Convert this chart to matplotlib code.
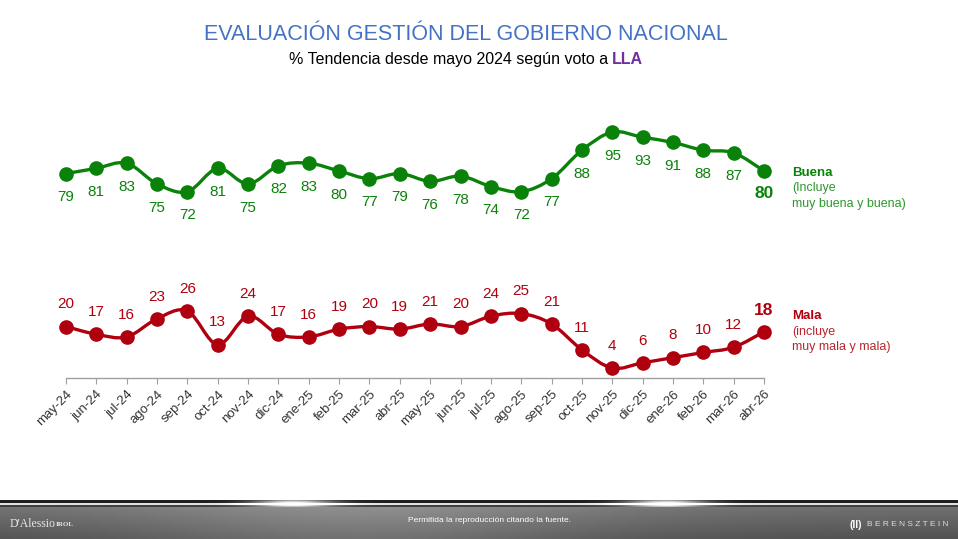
import numpy as np
import matplotlib
matplotlib.use("Agg")
import matplotlib.pyplot as plt
from matplotlib.path import Path
from matplotlib.patches import PathPatch

months = ["may-24", "jun-24", "jul-24", "ago-24", "sep-24", "oct-24", "nov-24", "dic-24",
          "ene-25", "feb-25", "mar-25", "abr-25", "may-25", "jun-25", "jul-25", "ago-25",
          "sep-25", "oct-25", "nov-25", "dic-25", "ene-26", "feb-26", "mar-26", "abr-26"]
buena = [79, 81, 83, 75, 72, 81, 75, 82, 83, 80, 77, 79, 76, 78, 74, 72, 77, 88, 95, 93, 91, 88, 87, 80]
mala = [20, 17, 16, 23, 26, 13, 24, 17, 16, 19, 20, 19, 21, 20, 24, 25, 21, 11, 4, 6, 8, 10, 12, 18]

GREEN = "#0a820a"
RED = "#b0000f"
BLUE = "#4472c4"
PURPLE = "#7030a0"

plt.rcParams["font.family"] = ["Liberation Sans", "DejaVu Sans"]

W, H = 958, 539
fig = plt.figure(figsize=(W / 100, H / 100), dpi=100)


def smooth_path(x, y):
    # Catmull-Rom through the points, as bezier segments
    pts = np.column_stack([x, y]).astype(float)
    ext = np.vstack([pts[0], pts, pts[-1]])
    verts = [tuple(pts[0])]
    codes = [Path.MOVETO]
    for i in range(len(pts) - 1):
        p0, p1, p2, p3 = ext[i], ext[i + 1], ext[i + 2], ext[i + 3]
        c1 = p1 + (p2 - p0) / 6
        c2 = p2 - (p3 - p1) / 6
        verts += [tuple(c1), tuple(c2), tuple(p2)]
        codes += [Path.CURVE4] * 3
    return Path(verts, codes)


ax = fig.add_axes([66 / W, 1 - 378.4 / H, 698 / W, (378.4 - 119.1) / H])
x = np.arange(len(months))

for vals, col in [(buena, GREEN), (mala, RED)]:
    ax.add_patch(PathPatch(smooth_path(x, vals), fill=False, edgecolor=col, lw=2.4,
                           clip_on=False, zorder=2))
    ax.plot(x, vals, "o", color=col, ms=9.5, clip_on=False, zorder=3)

for i, v in enumerate(buena):
    last = i == len(buena) - 1
    ax.annotate(str(v), (i, v), xytext=(0, -17 if not last else -16.5), textcoords="offset points",
                ha="center", va="center", color=GREEN,
                fontsize=12.5 if last else 11, fontweight="bold" if last else "normal")
for i, v in enumerate(mala):
    last = i == len(mala) - 1
    ax.annotate(str(v), (i, v), xytext=(0, 16 if not last else 15), textcoords="offset points",
                ha="center", va="center", color=RED,
                fontsize=12.5 if last else 11, fontweight="bold" if last else "normal")

ax.set_xlim(0, len(months) - 1)
ax.set_ylim(0, 100)
ax.set_xticks(x)
ax.set_xticklabels(months, rotation=45, ha="right", rotation_mode="anchor", fontsize=9.5, color="#333333")
ax.tick_params(axis="x", length=4, color="#a0a0a0", pad=3)
ax.set_yticks([])
for s in ["top", "right", "left"]:
    ax.spines[s].set_visible(False)
ax.spines["bottom"].set_color("#a0a0a0")
ax.spines["bottom"].set_linewidth(1)
ax.patch.set_alpha(0)

# series legends on the right
fig.text(792 / W, 1 - 173 / H, "Buena", color=GREEN, fontsize=9.5, fontweight="bold", va="center")
fig.text(792 / W, 1 - 188 / H, "(Incluye", color="#2e962e", fontsize=9, va="center")
fig.text(792 / W, 1 - 204 / H, "muy buena y buena)", color="#2e962e", fontsize=9, va="center")
fig.text(792 / W, 1 - 316 / H, "Mala", color=RED, fontsize=9.5, fontweight="bold", va="center")
fig.text(792 / W, 1 - 332 / H, "(incluye", color="#b8262e", fontsize=9, va="center")
fig.text(792 / W, 1 - 347 / H, "muy mala y mala)", color="#b8262e", fontsize=9, va="center")

# titles
fig.text(466 / W, 1 - 34 / H, "EVALUACIÓN GESTIÓN DEL GOBIERNO NACIONAL", color=BLUE,
         fontsize=15.5, ha="center", va="center")
renderer = fig.canvas.get_renderer()
t1 = fig.text(0, 1 - 60 / H, "% Tendencia desde mayo 2024 según voto a ", fontsize=11.5, va="center")
t2 = fig.text(0, 1 - 60 / H, "LLA", fontsize=11.5, fontweight="bold", color=PURPLE, va="center")
w1 = t1.get_window_extent(renderer).width
w2 = t2.get_window_extent(renderer).width
x0 = 466 - (w1 + w2) / 2
t1.set_x(x0 / W)
t2.set_x((x0 + w1) / W)

# footer band
fax = fig.add_axes([0, 0, 1, 40 / H])
rows = np.zeros((40, W, 3))
xx = np.linspace(0, 1, W)
for r in range(40):
    if r < 1:
        rows[r] = 1.0
    elif r < 4:
        rows[r] = 0.12
    elif r < 6:
        rows[r] = 0.88
    elif r < 8:
        rows[r] = 0.25
    else:
        base = 0.44 - 0.12 * (r - 8) / 32
        glow = 0.12 * np.exp(-((xx - 0.38) / 0.25) ** 2)
        rows[r] = (base + glow)[:, None]
for cx in [293, 666]:
    g = np.exp(-((np.arange(W) - cx) / 40.0) ** 2)
    for r in range(0, 8):
        rows[r] = np.clip(rows[r] + (0.9 * g * np.exp(-((r - 4) / 4.0) ** 2))[:, None], 0, 1)
fax.imshow(np.clip(rows, 0, 1), aspect="auto", extent=[0, W, 0, 40])
fax.set_axis_off()
fax.text(490, 19, "Permitida la reproducción citando la fuente.", color="white", fontsize=6,
         ha="center", va="center")
fax.text(10, 15, "D'Alessio", color="#e8e8e8", fontsize=8.5, family="Liberation Serif",
         ha="left", va="center")
fax.text(56, 14, "IROL", color="#e8e8e8", fontsize=5, fontweight="bold", family="Liberation Serif",
         ha="left", va="center")
fax.text(948, 14, "B E R E N S Z T E I N", color="#dddddd", fontsize=6, ha="right", va="center")
fax.text(862, 14, "(II)", color="white", fontsize=7.5, fontweight="bold", ha="right", va="center")

fig.savefig("out.png", dpi=100)
